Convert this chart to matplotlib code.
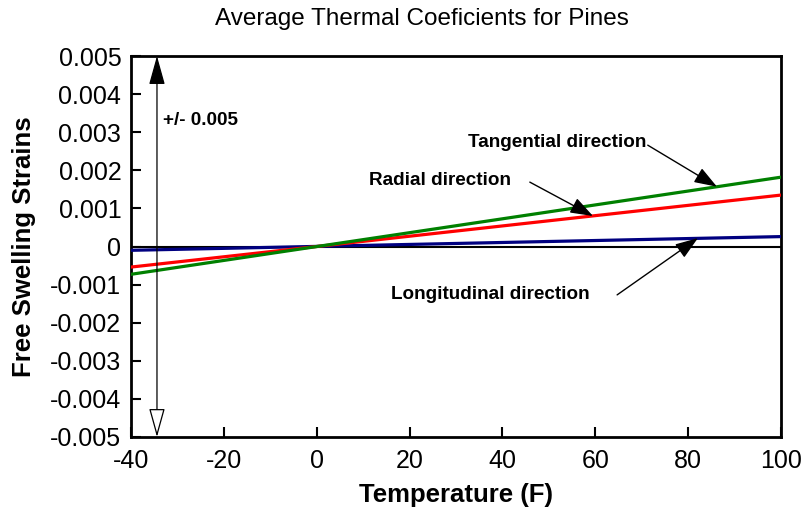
import matplotlib
matplotlib.use("Agg")
import matplotlib.pyplot as plt

plt.rcParams['font.family'] = ['Liberation Sans', 'DejaVu Sans']

# datos
temperature = [-40, 100]
tangential = [-0.00073, 0.00182]
radial = [-0.00054, 0.00135]
longitudinal = [-0.0001, 0.00026]

x_ticks = [-40, -20, 0, 20, 40, 60, 80, 100]
y_ticks = [-0.005, -0.004, -0.003, -0.002, -0.001, 0, 0.001, 0.002, 0.003, 0.004, 0.005]
y_labels = ['-0.005', '-0.004', '-0.003', '-0.002', '-0.001', '0',
            '0.001', '0.002', '0.003', '0.004', '0.005']

fig = plt.figure(figsize=(8.06, 5.12), dpi=100)
ax = fig.add_axes([0.1625, 0.1465, 0.8065, 0.7441])

# linea de cero
ax.plot([-40, 100], [0, 0], color='black', lw=1.5, zorder=2)
ax.plot(temperature, longitudinal, color='#000080', lw=2.3, zorder=3)
ax.plot(temperature, radial, color='#ff0000', lw=2.3, zorder=3)
ax.plot(temperature, tangential, color='#008000', lw=2.3, zorder=3)

ax.set_xlim(-40, 100)
ax.set_ylim(-0.005, 0.005)
ax.set_xticks(x_ticks)
ax.set_xticklabels([str(t) for t in x_ticks])
ax.set_yticks(y_ticks)
ax.set_yticklabels(y_labels)
ax.tick_params(direction='in', length=7, width=1.5, labelsize=18)
ax.tick_params(axis='x', pad=9)
ax.tick_params(axis='y', pad=7)
for s in ax.spines.values():
    s.set_linewidth(2)

ax.set_xlabel('Temperature (F)', fontsize=18.5, fontweight='bold', labelpad=7)
ax.set_ylabel('Free Swelling Strains', fontsize=18.5, fontweight='bold', labelpad=10)
fig.text(0.523, 0.963, 'Average Thermal Coeficients for Pines', fontsize=17.5,
         ha='center', va='center')

# flecha doble +/- 0.005
xa = -34.4
ax.annotate('', xy=(xa, 0.005), xytext=(xa, 0),
            arrowprops=dict(arrowstyle='-|>,head_length=18,head_width=5',
                            mutation_scale=1, color='black', lw=0.9, shrinkA=0, shrinkB=0))
ax.annotate('', xy=(xa, -0.005), xytext=(xa, 0),
            arrowprops=dict(arrowstyle='-|>,head_length=18,head_width=5',
                            mutation_scale=1, fc='white', ec='black', lw=0.9,
                            shrinkA=0, shrinkB=0))
ax.text(-33.1, 0.00332, '+/- 0.005', fontsize=13.6, fontweight='bold', va='center')

arrow_kw = dict(arrowstyle='-|>,head_length=14,head_width=5', mutation_scale=1,
                color='black', lw=1, shrinkA=0, shrinkB=0)
ax.annotate('', xy=(86.2, 0.00157), xytext=(71.3, 0.00266), arrowprops=arrow_kw)
ax.annotate('', xy=(59.5, 0.0008), xytext=(45.9, 0.00169), arrowprops=arrow_kw)
ax.annotate('', xy=(82.1, 0.00022), xytext=(64.7, -0.00127), arrowprops=arrow_kw)

ax.text(51.7, 0.00272, 'Tangential direction', fontsize=13.6, fontweight='bold',
        ha='center', va='center')
ax.text(26.6, 0.00172, 'Radial direction', fontsize=13.6, fontweight='bold',
        ha='center', va='center')
ax.text(37.3, -0.00127, 'Longitudinal direction', fontsize=13.6, fontweight='bold',
        ha='center', va='center')

fig.savefig('out.png', dpi=100)
